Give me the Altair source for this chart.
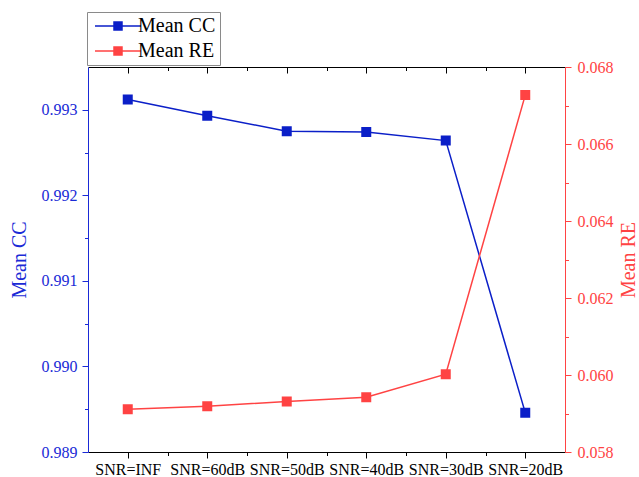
import json
import altair as alt
import pandas as pd

categories = ["SNR=INF", "SNR=60dB", "SNR=50dB", "SNR=40dB", "SNR=30dB", "SNR=20dB"]
mean_cc = [0.99312, 0.99293, 0.99275, 0.99274, 0.99264, 0.98946]
mean_re = [0.05911, 0.05919, 0.05931, 0.05942, 0.06002, 0.06727]
series_names = ["Mean CC", "Mean RE"]

rows = []
for i, c in enumerate(categories):
    rows.append({"idx": i, "snr": c, "series": series_names[0], "value": mean_cc[i]})
    rows.append({"idx": i, "snr": c, "series": series_names[1], "value": mean_re[i]})
df = pd.DataFrame(rows)

BLUE = "#0b1fc8"
BLUE_AX = "#1a2ad6"
RED = "#ff4343"
FONT = "Liberation Serif"
W, H = 477, 385

n = len(categories)
x_major = list(range(n))
x_minor = [i + 0.5 for i in range(n - 1)]
x_label = json.dumps(categories) + "[round(datum.value)]"
cc_domain = [0.989, 0.9935]
re_domain = [0.058, 0.068]
cc_major = [0.989, 0.990, 0.991, 0.992, 0.993]
cc_minor = [0.9895, 0.9905, 0.9915, 0.9925]
re_major = [0.058, 0.060, 0.062, 0.064, 0.066, 0.068]
re_minor = [0.059, 0.061, 0.063, 0.065, 0.067]

color_scale = alt.Scale(domain=series_names, range=[BLUE, RED])
legend_path = "M-1.5,0L10,0M3.25,-1L5.25,-1L5.25,1L3.25,1Z"
legend = alt.Legend(
    orient="none", legendX=-1, legendY=-55, title=None,
    labelFont=FONT, labelFontSize=20, labelColor="black",
    symbolType=legend_path, symbolSize=64, symbolStrokeWidth=1.5,
    padding=4, rowPadding=5, labelOffset=27,
    strokeColor="#8a8a8a", fillColor="white", cornerRadius=0,
)

def xs():
    return alt.Scale(domain=[-0.5, n - 0.5], nice=False, zero=False)

def ys(d):
    return alt.Scale(domain=d, nice=False, zero=False)

# label-only axes (no ticks); ticks come from separate tick-only axes
x_bottom = alt.Axis(
    orient="bottom", values=x_major, labelExpr=x_label, ticks=False,
    domainColor="black", labelColor="black",
    labelFont=FONT, labelFontSize=16, labelPadding=9, labelOverlap=False,
    labelFlush=False, grid=False, title=None,
)
x_top = alt.Axis(
    orient="top", values=x_major, labels=False, ticks=False,
    domainColor="black", grid=False, title=None,
)
y_left = alt.Axis(
    orient="left", values=cc_major, ticks=False, format=".3f",
    domainColor=BLUE_AX, labelColor=BLUE_AX, titleColor=BLUE_AX,
    labelFont=FONT, labelFontSize=16, labelPadding=11, labelFlush=False, labelOverlap=False,
    title="Mean CC", titleFont=FONT, titleFontSize=20, titleFontWeight="normal",
    titlePadding=12, grid=False,
)
y_right = alt.Axis(
    orient="right", values=re_major, ticks=False, format=".3f",
    domainColor=RED, labelColor=RED, titleColor=RED,
    labelFont=FONT, labelFontSize=16, labelPadding=12, labelFlush=False, labelOverlap=False,
    title="Mean RE", titleFont=FONT, titleFontSize=20, titleFontWeight="normal",
    titleAngle=270, titlePadding=25, grid=False,
)

def tick_axis(orient, vals, color, size, offset=0):
    return alt.Axis(
        orient=orient, values=vals, labels=False, domain=False, ticks=True,
        tickSize=size, tickWidth=1, tickColor=color, grid=False, title=None, offset=offset,
    )

def series_layer(name, xaxis, yaxis, ydomain, color):
    base = alt.Chart(df).transform_filter(alt.datum.series == name)
    x = alt.X("idx:Q", scale=xs(), axis=xaxis)
    y = alt.Y("value:Q", scale=ys(ydomain), axis=yaxis)
    line = base.mark_line(color=color, strokeWidth=1.5).encode(x=x, y=y)
    pts = base.mark_point(shape="square", filled=True, size=64, opacity=1).encode(
        x=x, y=y,
        color=alt.Color("series:N", scale=color_scale, legend=legend),
        stroke=alt.Stroke("series:N", scale=color_scale, legend=legend),
    )
    return alt.layer(line, pts)

def ghost_layer(name, xaxis, yaxis, ydomain):
    base = alt.Chart(df).transform_filter(alt.datum.series == name)
    return base.mark_line(opacity=0).encode(
        x=alt.X("idx:Q", scale=xs(), axis=xaxis),
        y=alt.Y("value:Q", scale=ys(ydomain), axis=yaxis),
    )

cc_layer = series_layer("Mean CC", x_bottom, y_left, cc_domain, BLUE)
re_layer = series_layer("Mean RE", x_top, y_right, re_domain, RED)
g1 = ghost_layer("Mean CC", tick_axis("bottom", x_minor, "black", 3.5),
                 tick_axis("left", cc_minor, BLUE_AX, 3.5), cc_domain)
g2 = ghost_layer("Mean RE", tick_axis("bottom", x_minor, "black", 3.5, -H),
                 tick_axis("right", re_minor, RED, 3.5), re_domain)
g3 = ghost_layer("Mean CC", tick_axis("bottom", x_major, "black", 6),
                 tick_axis("left", cc_major, BLUE_AX, 6), cc_domain)
g4 = ghost_layer("Mean RE", tick_axis("bottom", x_major, "black", 6, -H),
                 tick_axis("right", re_major, RED, 6), re_domain)

chart = (
    alt.layer(g1, g2, g3, g4, cc_layer, re_layer)
    .resolve_scale(x="independent", y="independent")
    .properties(
        width=W, height=H,
        autosize=alt.AutoSizeParams(type="none"),
        padding={"left": 88, "top": 67, "right": 74, "bottom": 25},
        background="white",
    )
    .configure_view(stroke=None)
    .configure_axis(labelFont=FONT, titleFont=FONT)
)

chart.save("out.html", embed_options={"renderer": "svg", "actions": False})
